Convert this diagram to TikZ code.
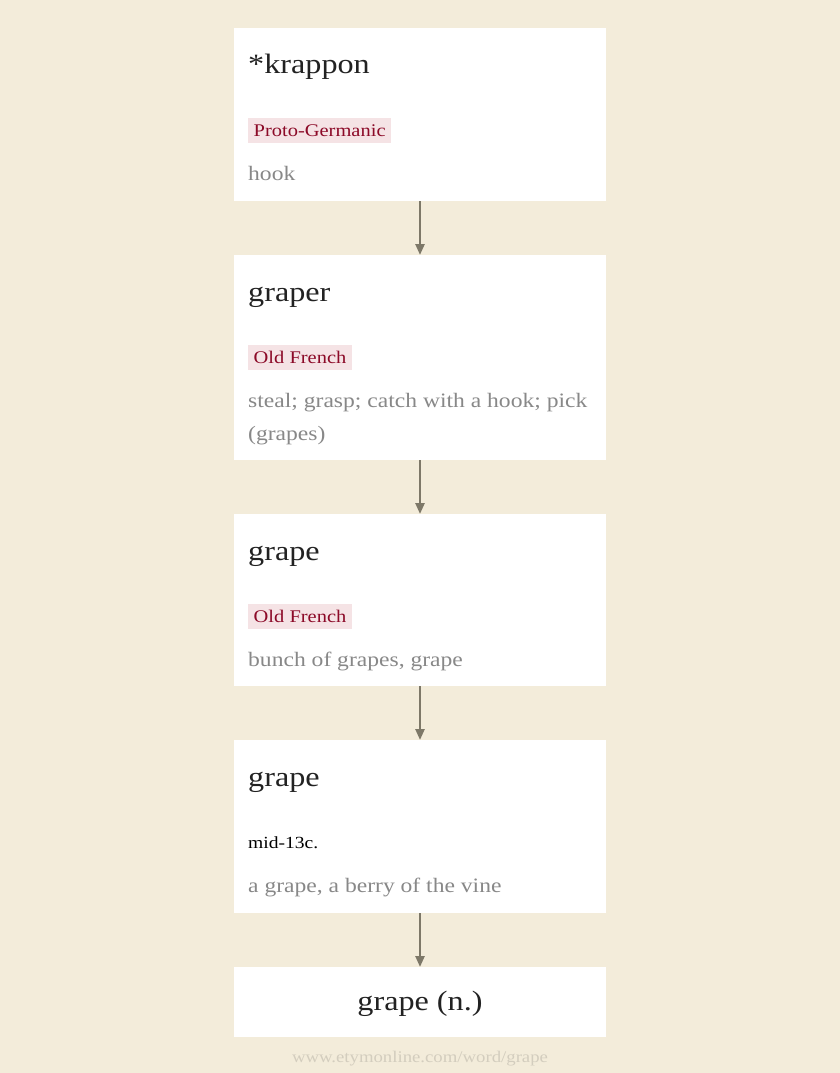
\documentclass[tikz,border=0pt]{standalone}
\usepackage{fontspec}
\setmainfont[FakeStretch=1.15]{Liberation Serif}
\usetikzlibrary{arrows.meta}
\definecolor{bg}{HTML}{F3ECDA}
\definecolor{titlec}{HTML}{222222}
\definecolor{glossc}{HTML}{888888}
\definecolor{tagfill}{HTML}{F5E3E5}
\definecolor{tagtext}{HTML}{8C0A28}
\definecolor{arrc}{HTML}{7D7868}
\definecolor{footc}{HTML}{D3CDBE}
\tikzset{
  box/.style={fill=white, draw=none, rectangle, minimum width=372pt, inner sep=0pt, anchor=north},
  wtitle/.style={inner sep=0pt, anchor=base west, text=titlec, font=\fontsize{28}{32}\selectfont},
  tag/.style={fill=tagfill, text=tagtext, anchor=north west, inner xsep=5.5pt, inner ysep=4pt,
     text height=14pt, text depth=3pt, font=\fontsize{17.8}{22}\selectfont},
  gloss/.style={inner sep=0pt, anchor=base west, text=glossc, font=\fontsize{20.5}{24}\selectfont},
  date/.style={inner sep=0pt, anchor=base west, text=black, font=\fontsize{17}{20}\selectfont},
  arr/.style={draw=arrc, line width=2.4pt, -{Triangle[length=11pt,width=9pt]}},
}
\begin{document}
\begin{tikzpicture}[x=1pt,y=-1pt]
\fill[bg] (0,0) rectangle (840,1073);
\useasboundingbox (0,0) rectangle (840,1073);
% boxes
\node[box, minimum height=173pt] (b1) at (420,28) {};
\node[box, minimum height=205pt] (b2) at (420,255) {};
\node[box, minimum height=172pt] (b3) at (420,514) {};
\node[box, minimum height=173pt] (b4) at (420,740) {};
\node[box, minimum height=70pt] (b5) at (420,967) {};
% box 1
\node[wtitle] (t1) at (248,74) {*krappon};
\node[tag] (l1) at (248,118) {Proto-Germanic};
\node[gloss] (g1) at (248,180) {hook};
% box 2
\node[wtitle] (t2) at (248,301) {graper};
\node[tag] (l2) at (248,345) {Old French};
\node[gloss] (g2a) at (248,407) {steal; grasp; catch with a hook; pick};
\node[gloss] (g2b) at (248,440) {(grapes)};
% box 3
\node[wtitle] (t3) at (248,560) {grape};
\node[tag] (l3) at (248,604) {Old French};
\node[gloss] (g3) at (248,666) {bunch of grapes, grape};
% box 4
\node[wtitle] (t4) at (248,786) {grape};
\node[date] (d4) at (248,848) {mid-13c.};
\node[gloss] (g4) at (248,892) {a grape, a berry of the vine};
% box 5
\node[wtitle, anchor=base] (t5) at (420,1010) {grape (n.)};
% footer
\node[inner sep=0pt, anchor=base, text=footc, font=\fontsize{16.3}{20}\selectfont] (foot) at (420,1062) {www.etymonline.com/word/grape};
% arrows
\draw[arr] (b1.south) -- (b2.north);
\draw[arr] (b2.south) -- (b3.north);
\draw[arr] (b3.south) -- (b4.north);
\draw[arr] (b4.south) -- (b5.north);
\end{tikzpicture}
\end{document}
